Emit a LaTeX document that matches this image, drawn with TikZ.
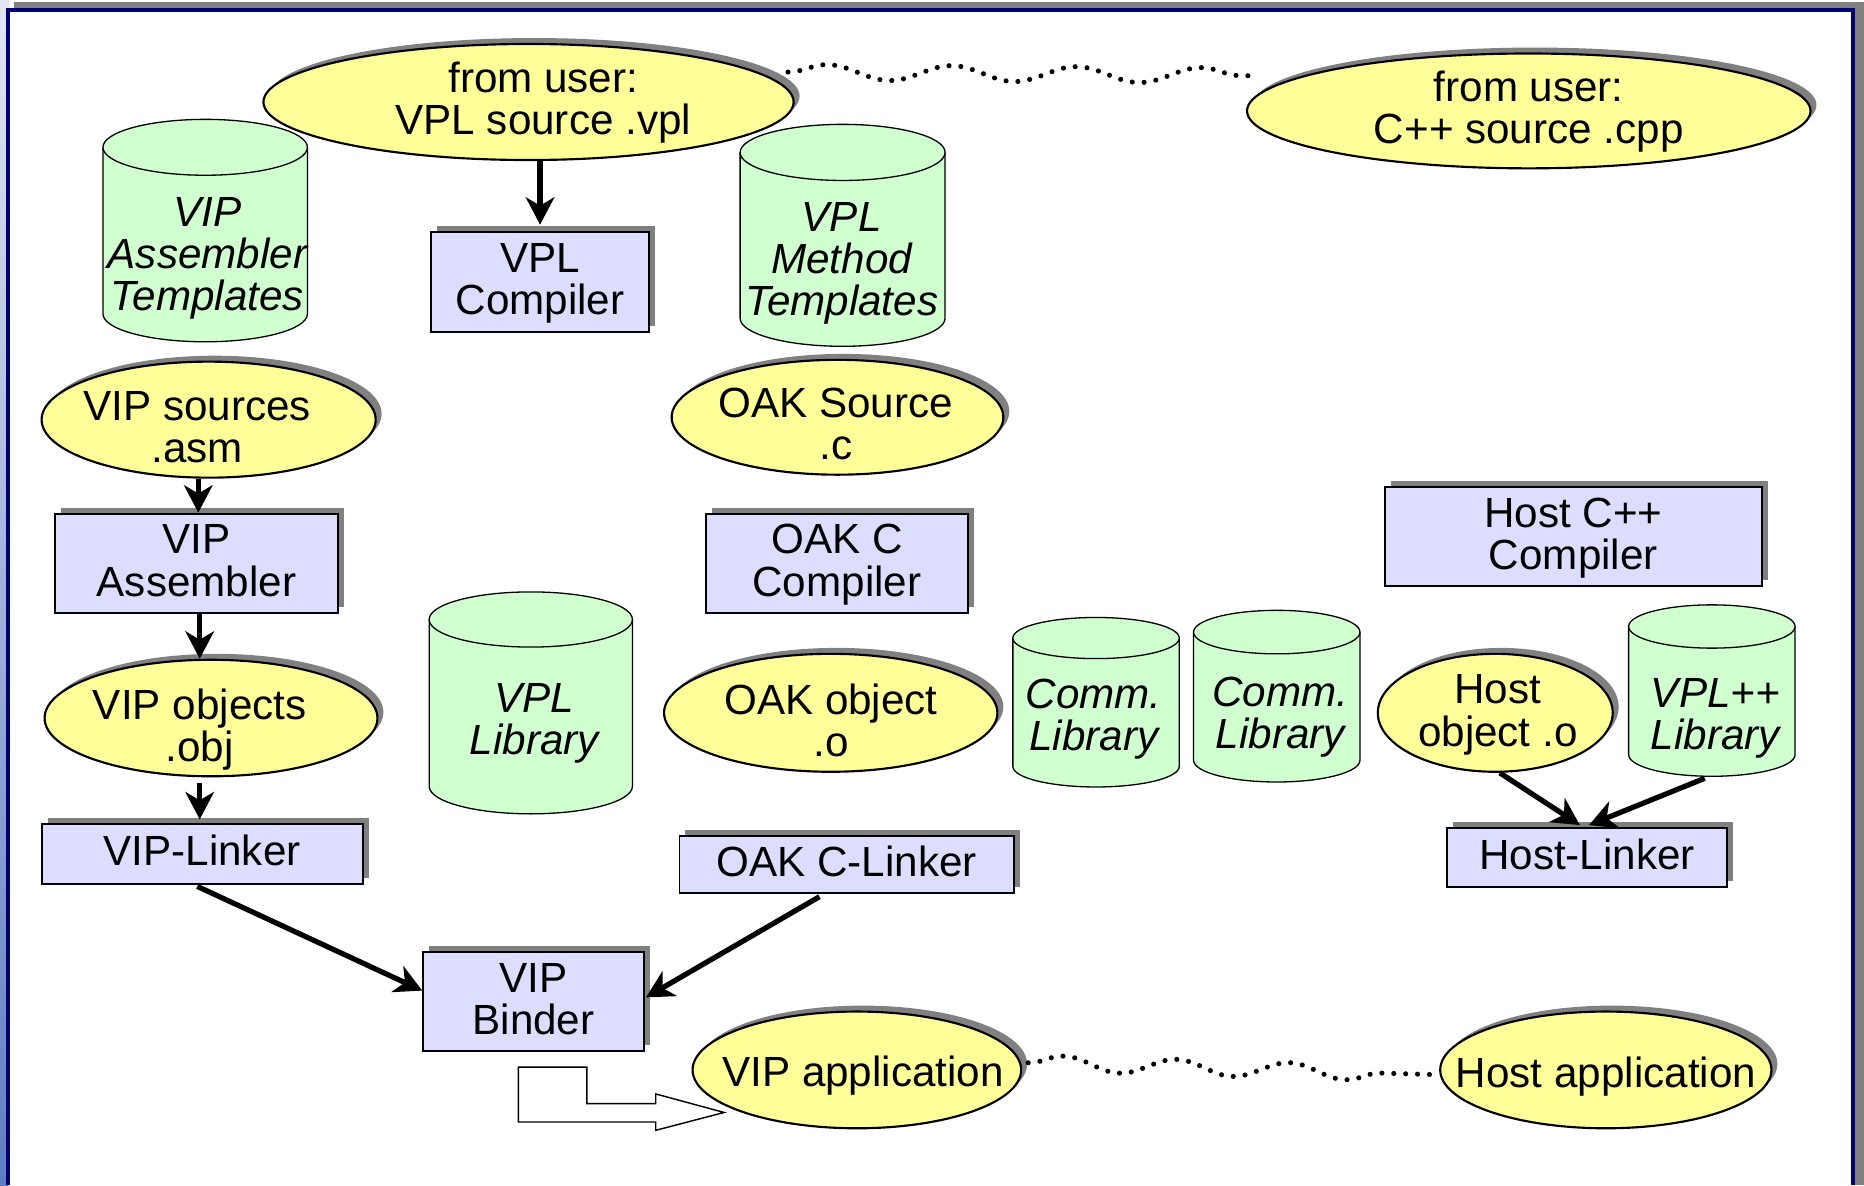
\documentclass[tikz,border=0pt]{standalone}
\usepackage{fontspec}
\setmainfont{Liberation Sans}
\usetikzlibrary{arrows.meta,shapes.geometric,shadows,decorations.pathmorphing}
\definecolor{ellfill}{HTML}{FFFF99}
\definecolor{boxfill}{HTML}{DDDDFF}
\definecolor{cylfill}{HTML}{D0FFD0}
\definecolor{shgray}{HTML}{808080}
\definecolor{framenavy}{HTML}{000070}
\definecolor{bgtop}{HTML}{E2E6F2}
\definecolor{bgbot}{HTML}{5F7DC4}
\newcommand{\ps}{\rule[-0.22em]{0pt}{1em}}
% name, cx, top, bottom, half width, end radius, text x, text y, text
\newcommand{\cylnode}[9]{%
  \fill[cylfill] ({#2-#5},{#3+#6}) -- ({#2-#5},{#4-#6})
    .. controls ({#2-#5},{#4-#6+0.5523*#6}) and ({#2-0.5523*#5},{#4}) .. ({#2},{#4})
    .. controls ({#2+0.5523*#5},{#4}) and ({#2+#5},{#4-#6+0.5523*#6}) .. ({#2+#5},{#4-#6})
    -- ({#2+#5},{#3+#6}) -- cycle;
  \draw[cylline] ({#2-#5},{#3+#6}) -- ({#2-#5},{#4-#6})
    .. controls ({#2-#5},{#4-#6+0.5523*#6}) and ({#2-0.5523*#5},{#4}) .. ({#2},{#4})
    .. controls ({#2+0.5523*#5},{#4}) and ({#2+#5},{#4-#6+0.5523*#6}) .. ({#2+#5},{#4-#6})
    -- ({#2+#5},{#3+#6});
  \filldraw[cylline,fill=cylfill] (#2,{#3+#6}) ellipse [x radius=#5, y radius=#6];
  \coordinate (#1-bot) at (#2,#4);
  \node[cyltxt] (#1) at (#7,#8) {#9};
}
\begin{document}
\begin{tikzpicture}[x=1pt,y=-1pt,
  every node/.style={font=\fontsize{35.5}{35.5}\selectfont},
  sh/.style={drop shadow={shadow xshift=5pt,shadow yshift=5pt,fill=shgray,opacity=1}},
  ellshape/.style={ellipse,draw=black,line width=1.8pt,fill=ellfill,inner sep=0pt,sh},
  txt/.style={inner sep=0pt,align=center},
  procbox/.style={rectangle,draw=black,line width=1.6pt,fill=boxfill,inner sep=0pt,align=center,sh},
  cyltxt/.style={inner sep=0pt,align=center,font=\fontsize{35.5}{35.5}\selectfont\itshape},
  cylline/.style={draw=black,line width=1.1pt},
  flow/.style={line width=4.4pt,-{Stealth[length=23pt,width=24pt,inset=7pt]}},
  wavy/.style={line width=4.3pt,line cap=round,dash pattern=on 0pt off 10pt,decorate,decoration={snake,segment length=#1,amplitude=6.5pt}},
  hollow/.style={draw=black,line width=1.2pt,fill=white}
]
\useasboundingbox (0,0) rectangle (1568,997);
% slide frame
\fill[white] (0,0) rectangle (1568,997);
\shade[top color=bgtop,bottom color=bgbot] (0,0) rectangle (7,997);
\fill[shgray] (11.8,1.7) rectangle (1568,6.7);
\fill[shgray] (1560.5,1.7) rectangle (1568,997);
\draw[framenavy,line width=3.4pt] (6.7,997) -- (6.7,8.4) -- (1558.9,8.4) -- (1558.9,997);

% cylinders
\cylnode{vipat}{172.6}{100.4}{287.5}{86}{23.5}{174.5}{216}{\ps VIP\\\ps Assembler\\\ps Templates}
\cylnode{vplmt}{708.8}{104.6}{291.3}{86.2}{23.6}{708}{220}{\ps VPL\\\ps Method\\\ps Templates}
\cylnode{vpllib}{446.5}{497.9}{684.6}{85.5}{23.2}{449.5}{607}{\ps VPL\\\ps Library}
\cylnode{comma}{922}{519.4}{662}{70}{17.3}{920}{603.4}{\ps Comm.\\\ps Library}
\cylnode{commb}{1074}{513.4}{657.8}{70}{18.3}{1077}{602}{\ps Comm.\\\ps Library}
\cylnode{vplpp}{1440}{508.8}{653}{70}{18.2}{1443}{602.7}{\ps VPL++\\\ps Library}

% ellipses
\node[ellshape,minimum width=446,minimum height=97.6] (vpl) at (444.6,85.8) {};
\node[txt] (vpl-t) at (457,85.6) {\ps from user:\\\ps VPL source .vpl};
\node[ellshape,minimum width=474,minimum height=96.6] (cpp) at (1286,93.3) {};
\node[txt] (cpp-t) at (1286,93) {\ps from user:\\\ps C++ source .cpp};
\node[ellshape,minimum width=281,minimum height=97.6] (vipsrc) at (175.5,353) {};
\node[txt] (vipsrc-t) at (166,361.7) {\ps VIP sources\\\ps .asm};
\node[ellshape,minimum width=279,minimum height=96.6] (oaksrc) at (704.5,351) {};
\node[txt] (oaksrc-t) at (703,359) {\ps OAK Source\\\ps .c};
\node[ellshape,minimum width=280,minimum height=98] (vipobj) at (177.5,604) {};
\node[txt] (vipobj-t) at (168,613) {\ps VIP objects\\\ps .obj};
\node[ellshape,minimum width=280.4,minimum height=99.2] (oakobj) at (698.8,599.6) {};
\node[txt] (oakobj-t) at (699,609) {\ps OAK object\\\ps .o};
\node[ellshape,minimum width=197.6,minimum height=99.2] (hostobj) at (1257.8,599.6) {};
\node[txt] (hostobj-t) at (1260,600) {\ps Host\\\ps object .o};
\node[ellshape,minimum width=276.4,minimum height=98.2] (vipapp) at (720.8,900) {};
\node[txt] (vipapp-t) at (726,903.6) {\ps VIP application};
\node[ellshape,minimum width=278.6,minimum height=98.2] (hostapp) at (1350.8,900) {};
\node[txt] (hostapp-t) at (1351,905) {\ps Host application};

% boxes
\node[procbox,minimum width=183.4,minimum height=84.6] (vplc) at (454.3,237.1) {\ps VPL\\\ps Compiler};
\node[procbox,minimum width=237.5,minimum height=83.6] (vipasm) at (165.3,473.8) {\ps VIP\\\ps Assembler};
\node[procbox,minimum width=219.9,minimum height=83.6] (oakcc) at (704,473.8) {\ps OAK C\\\ps Compiler};
\node[procbox,minimum width=317,minimum height=83.7] (hostcc) at (1323.5,451.4) {\ps Host C++\\\ps Compiler};
\node[procbox,minimum width=270,minimum height=49.9] (viplink) at (170,718.3) {\ps VIP-Linker};
\node[procbox,minimum width=281.4,minimum height=48.2] (oaklink) at (712.3,727.1) {\ps OAK C-Linker};
\node[procbox,minimum width=236,minimum height=49.9] (hostlink) at (1335,721.5) {\ps Host-Linker};
\node[procbox,minimum width=185.6,minimum height=83.7] (vipbind) at (448.8,842.3) {\ps VIP\\\ps Binder};

% arrows
\draw[flow] (vplc.north |- vpl.south) -- ([yshift=5pt]vplc.north);
\draw[flow] ([xshift=1.5pt]vipasm.north |- vipsrc.south) -- ([xshift=1.5pt]vipasm.north);
\draw[flow] ([xshift=2.7pt]vipasm.south) -- ([xshift=2.7pt]vipasm.south |- vipobj.north);
\draw[flow] ([xshift=-9.5pt,yshift=-5pt]vipobj.south) -- ([xshift=-2pt,yshift=3.3pt]viplink.north);
\draw[flow] ([xshift=-4pt,yshift=-1.6pt]viplink.south) -- ([yshift=9pt]vipbind.west);
\draw[flow] ([xshift=-23pt,yshift=-2.3pt]oaklink.south) -- ([xshift=1pt,yshift=3.3pt]vipbind.east);
\draw[flow] ([xshift=3.8pt]hostobj.south) -- ([xshift=-6pt,yshift=1.7pt]hostlink.north);
\draw[flow] ([xshift=-6pt,yshift=-1.7pt]vplpp-bot) -- ([xshift=1.7pt,yshift=1.7pt]hostlink.north);

% dotted wavy links
\draw[wavy=105] ([xshift=-5.6pt,yshift=25.2pt]vpl.east) -- ([xshift=4pt,yshift=29.6pt]cpp.west);
\draw[wavy=95] ([xshift=5pt,yshift=6pt]vipapp.east) -- ([xshift=-2.5pt,yshift=-4pt]hostapp.west);

% hollow bent arrow
\draw[hollow] (436.1,897.7) -- (493.6,897.7) -- (493.6,928.3) -- (551.6,928.3) -- (551.6,920.2)
  -- (609.1,935.8) -- (551.6,950.8) -- (551.6,943.8) -- (436.1,943.8) -- cycle;
\end{tikzpicture}
\end{document}
